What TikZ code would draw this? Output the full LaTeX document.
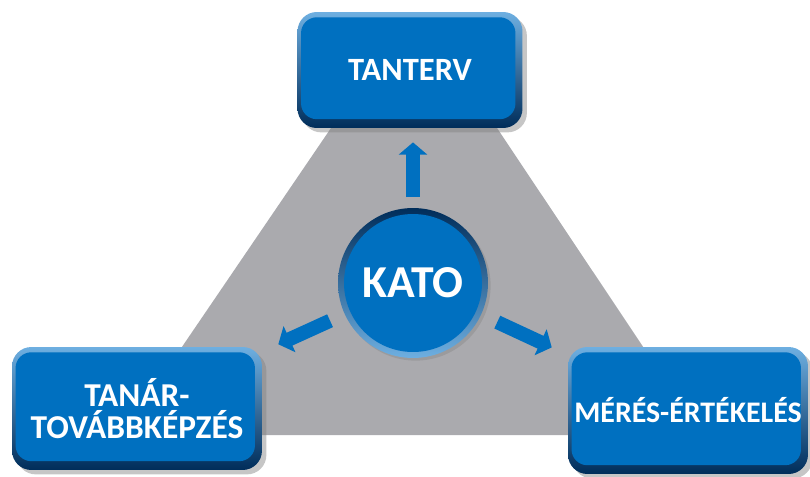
\documentclass[tikz,border=0pt]{standalone}
\usepackage{fontspec}
\setmainfont{Carlito}
\usetikzlibrary{arrows.meta,shadows}

\definecolor{katoblue}{RGB}{0,112,192}
\definecolor{katolight}{RGB}{110,175,225}
\definecolor{katodark}{RGB}{0,45,90}
\definecolor{katogray}{RGB}{170,170,174}

\begin{document}
\begin{tikzpicture}[x=0.02cm, y=-0.02cm,
  katobox/.style={rectangle, rounded corners=11pt, text=white, align=center,
    font=\bfseries\fontsize{17}{17.5}\selectfont,
    top color=katolight, middle color=katoblue, bottom color=katodark,
    drop shadow={shadow xshift=2.5pt, shadow yshift=-2.5pt, opacity=0.45},
    path picture={\fill[katoblue, rounded corners=9pt]
      ([xshift=2pt,yshift=-3pt]path picture bounding box.north west) rectangle
      ([xshift=-4pt,yshift=5pt]path picture bounding box.south east);}},
  katocircle/.style={circle, minimum size=3cm, text=white,
    font=\bfseries\fontsize{26}{28}\selectfont,
    top color=katodark, bottom color=katolight,
    drop shadow={shadow xshift=1.5pt, shadow yshift=-1.5pt, opacity=0.35},
    path picture={\fill[katoblue] (path picture bounding box.center) circle (1.38cm);}},
  katoarrow/.style={draw=katoblue, line width=8pt, -{Triangle[width=16pt,length=7pt]}}
]

% Fix the page size
\useasboundingbox (0,0) rectangle (810,476);

% Draw the gray triangle behind the boxes
\fill[katogray] (331,128) -- (497,128) -- (702,435) -- (122,435) -- cycle;

% The three boxes and the circle
\node[katobox, minimum width=4.5cm, minimum height=2.32cm, font=\bfseries\fontsize{18.5}{20}\selectfont] (tanterv) at (410,70) {TANTERV};
\node[katobox, minimum width=5cm, minimum height=2.46cm, font=\bfseries\fontsize{19}{18.5}\selectfont] (tanar) at (137,408.5) {TANÁR-\\TOVÁBBKÉPZÉS};
\node[katobox, minimum width=4.8cm, minimum height=2.54cm] (meres) at (688,410.5) {MÉRÉS-ÉRTÉKELÉS};
\node[katocircle] (kato) at (413,283) {KATO};

% Arrows out of the circle
\draw[katoarrow, shorten <=6pt, shorten >=8pt] (kato.north) -- (kato |- tanterv.south);
\draw[katoarrow, shorten <=9pt, shorten >=10pt] (kato) -- (tanar);
\draw[katoarrow, shorten <=10pt, shorten >=10pt] (kato) -- (meres);

\end{tikzpicture}
\end{document}
